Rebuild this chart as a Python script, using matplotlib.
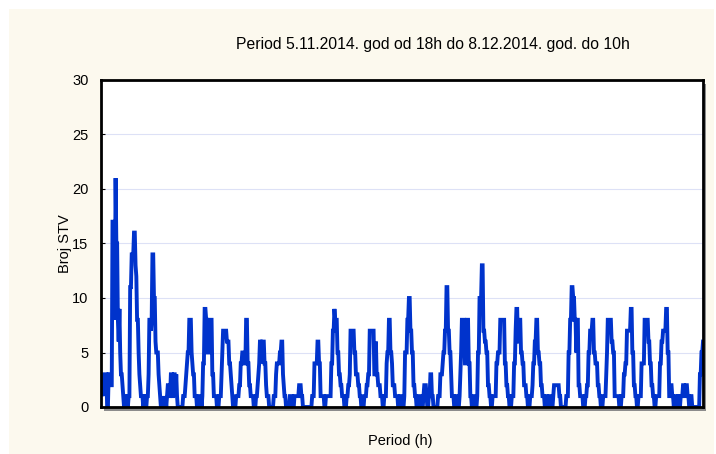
import matplotlib.pyplot as plt
from matplotlib.patches import Rectangle
import numpy as np

# hourly counts, 5.11.2014 18h .. 8.12.2014 10h
nov05 = [2, 1, 2, 1, 3, 3]
nov06 = [3, 3, 0, 0, 3, 3, 2, 2, 2, 17, 17, 17, 8, 21, 15, 15, 8, 6, 9, 5, 3, 3, 2, 1]
nov07 = [0, 0, 1, 1, 1, 0, 1, 1, 11, 11, 14, 14, 14, 16, 16, 13, 12, 8, 8, 5, 3, 2, 1, 1]
nov08 = [1, 0, 1, 1, 0, 0, 1, 1, 3, 8, 8, 7, 8, 14, 14, 10, 10, 6, 5, 5, 5, 3, 2, 1]
nov09 = [0, 1, 0, 0, 1, 0, 1, 0, 1, 2, 2, 1, 1, 3, 3, 1, 1, 3, 3, 1, 3, 1, 0, 0]
nov10 = [0, 0, 0, 0, 0, 1, 1, 1, 2, 3, 4, 5, 5, 8, 8, 8, 5, 4, 3, 3, 1, 1, 1, 0]
nov11 = [1, 1, 1, 0, 1, 0, 1, 4, 4, 9, 9, 8, 8, 5, 5, 8, 8, 8, 8, 3, 3, 1, 1, 1]
nov12 = [1, 0, 0, 0, 1, 1, 1, 3, 5, 7, 7, 7, 7, 7, 6, 6, 6, 4, 4, 3, 2, 1, 0, 0]
nov13 = [0, 0, 1, 1, 1, 1, 2, 2, 4, 4, 5, 5, 5, 4, 4, 8, 8, 4, 4, 2, 2, 1, 1, 1]
nov14 = [1, 0, 0, 0, 1, 1, 2, 3, 4, 6, 6, 4, 6, 6, 6, 4, 4, 2, 1, 1, 1, 0, 0, 0]
nov15 = [0, 0, 0, 1, 1, 1, 3, 4, 4, 4, 4, 5, 5, 6, 6, 3, 2, 1, 1, 0, 0, 0, 0, 0]
nov16 = [1, 1, 1, 1, 0, 0, 1, 1, 1, 1, 1, 1, 2, 2, 2, 1, 1, 0, 0, 0, 0, 0, 0, 0]
nov17 = [0, 0, 0, 0, 0, 1, 1, 1, 4, 4, 4, 4, 6, 6, 4, 4, 1, 1, 1, 1, 1, 0, 0, 1]
nov18 = [1, 1, 1, 1, 1, 1, 4, 4, 7, 7, 9, 8, 8, 8, 5, 5, 3, 3, 2, 2, 1, 1, 1, 0]
nov19 = [0, 0, 1, 1, 2, 2, 3, 7, 7, 7, 7, 7, 5, 5, 3, 3, 3, 2, 2, 1, 1, 0, 0, 0]
nov20 = [0, 1, 1, 1, 2, 2, 3, 3, 7, 7, 7, 7, 7, 7, 3, 3, 6, 3, 3, 2, 2, 2, 1, 1]
nov21 = [1, 0, 0, 1, 1, 1, 4, 5, 5, 8, 8, 5, 5, 4, 2, 2, 2, 1, 1, 1, 1, 0, 0, 0]
nov22 = [1, 1, 1, 0, 0, 1, 5, 5, 5, 8, 8, 10, 10, 7, 7, 5, 5, 2, 2, 1, 1, 0, 0, 1]
nov23 = [1, 1, 1, 0, 0, 0, 1, 2, 2, 2, 1, 0, 0, 1, 1, 3, 3, 1, 1, 0, 0, 0, 0, 0]
nov24 = [0, 1, 1, 1, 3, 3, 3, 4, 5, 5, 7, 7, 11, 11, 7, 7, 5, 5, 3, 1, 1, 1, 0, 0]
nov25 = [1, 1, 1, 0, 0, 1, 3, 5, 8, 8, 8, 8, 4, 4, 4, 8, 8, 4, 4, 1, 1, 0, 1, 1]
nov26 = [1, 0, 0, 0, 1, 5, 5, 10, 10, 10, 13, 13, 7, 7, 6, 6, 5, 5, 2, 2, 1, 1, 0, 0]
nov27 = [1, 1, 1, 1, 1, 4, 4, 5, 5, 5, 8, 8, 8, 8, 8, 8, 4, 4, 2, 2, 1, 1, 0, 0]
nov28 = [0, 1, 1, 1, 4, 4, 7, 9, 9, 6, 6, 8, 8, 5, 5, 4, 4, 2, 2, 2, 1, 1, 0, 0]
nov29 = [0, 1, 1, 1, 2, 4, 4, 6, 6, 8, 8, 5, 5, 4, 4, 2, 2, 1, 1, 1, 0, 0, 1, 1]
nov30 = [0, 0, 1, 1, 1, 0, 0, 1, 2, 2, 2, 2, 2, 2, 2, 1, 1, 0, 0, 0, 0, 0, 0, 0]
dec01 = [1, 1, 1, 5, 5, 8, 8, 11, 11, 10, 10, 8, 8, 5, 8, 8, 2, 2, 1, 1, 1, 1, 0, 0]
dec02 = [0, 1, 1, 2, 2, 5, 5, 7, 7, 7, 8, 8, 5, 5, 4, 4, 4, 2, 2, 1, 1, 0, 0, 0]
dec03 = [1, 1, 1, 1, 3, 5, 8, 8, 8, 8, 8, 6, 6, 5, 5, 1, 1, 1, 1, 1, 1, 0, 0, 0]
dec04 = [1, 1, 1, 3, 3, 4, 4, 7, 7, 7, 7, 7, 9, 9, 5, 5, 2, 2, 1, 1, 0, 0, 1, 1]
dec05 = [1, 1, 4, 4, 4, 4, 8, 8, 8, 8, 8, 6, 6, 4, 4, 2, 2, 1, 1, 0, 0, 1, 1, 1]
dec06 = [1, 1, 4, 4, 6, 6, 7, 7, 7, 7, 9, 9, 5, 5, 1, 1, 2, 2, 1, 1, 0, 1, 0, 1]
dec07 = [1, 0, 1, 1, 0, 1, 1, 1, 2, 2, 1, 1, 2, 2, 1, 1, 0, 0, 1, 1, 0, 0, 0, 0]
dec08 = [0, 0, 0, 0, 0, 0, 3, 3, 5, 5, 6]

stv = (nov05 + nov06 + nov07 + nov08 + nov09 + nov10 + nov11 + nov12 + nov13
       + nov14 + nov15 + nov16 + nov17 + nov18 + nov19 + nov20 + nov21 + nov22
       + nov23 + nov24 + nov25 + nov26 + nov27 + nov28 + nov29 + nov30
       + dec01 + dec02 + dec03 + dec04 + dec05 + dec06 + dec07 + dec08)
hours = np.arange(len(stv))

plt.rcParams['font.family'] = ['Liberation Sans', 'DejaVu Sans']

W, H = 716, 454
fig = plt.figure(figsize=(W / 100, H / 100), dpi=100)
fig.patch.set_facecolor('white')

# cream panel behind everything
fig.patches.append(Rectangle((9 / W, 0), 705 / W, 1 - 9 / H, transform=fig.transFigure,
                             facecolor='#FCF9EE', edgecolor='none', zorder=-10))
# plot shadow
fig.patches.append(Rectangle((104 / W, 1 - 411 / H), 602 / W, 327 / H, transform=fig.transFigure,
                             facecolor='#8c8c8c', edgecolor='none', zorder=-5))

ax = fig.add_axes([101 / W, 1 - 407 / H, 602 / W, 327 / H])
ax.set_facecolor('white')

ax.plot(hours, stv, color='#0033CC', linewidth=2.8, solid_joinstyle='miter')

ax.set_xlim(0, len(stv) - 1)
ax.set_ylim(0, 30)
ax.set_yticks(np.arange(0, 31, 5))
ax.set_xticks([])
ax.grid(axis='y', color='#dde1f6', linewidth=0.8)
ax.set_axisbelow(True)
ax.tick_params(axis='y', length=3, direction='in', pad=9, labelsize=10.5)

for s in ax.spines.values():
    s.set_linewidth(2)
    s.set_color('black')

ax.set_ylabel('Broj STV', fontsize=10.5)
ax.yaxis.set_label_coords(-0.049, 0.5)
ax.set_xlabel('Period (h)', fontsize=10.5)
ax.xaxis.set_label_coords(0.497, -0.083)

fig.text(433 / W, 1 - 45 / H, 'Period 5.11.2014. god od 18h do 8.12.2014. god. do 10h',
         ha='center', va='center', fontsize=11.3)

fig.savefig('out.png', dpi=100)
